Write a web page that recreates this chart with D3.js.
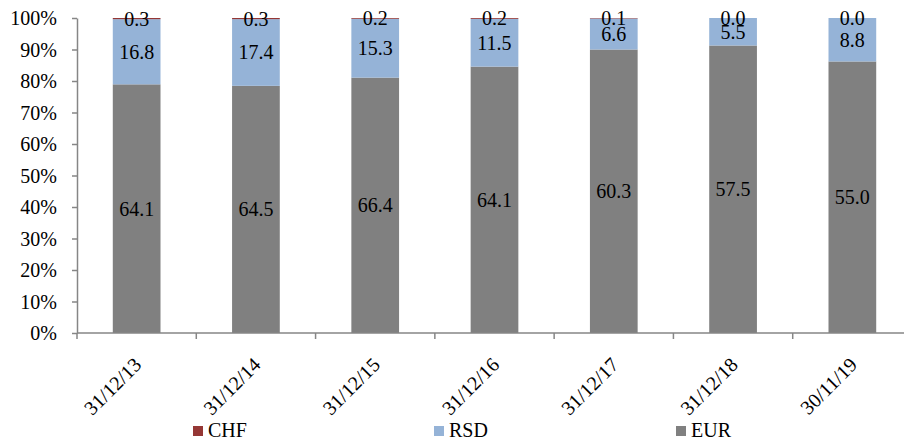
<!DOCTYPE html>
<html>
<head>
<meta charset="utf-8">
<script src="https://cdn.jsdelivr.net/npm/d3@7"></script>
<style>
  body { margin: 0; background: #fff; }
</style>
</head>
<body>
<div id="chart"></div>
<script>
//Categories and series (EUR at bottom, RSD, CHF on top)
var dates = ["31/12/13", "31/12/14", "31/12/15", "31/12/16", "31/12/17", "31/12/18", "30/11/19"];
var eur = [64.1, 64.5, 66.4, 64.1, 60.3, 57.5, 55.0];
var rsd = [16.8, 17.4, 15.3, 11.5, 6.6, 5.5, 8.8];
var chf = [0.3, 0.3, 0.2, 0.2, 0.1, 0.0, 0.0];
var yTicks = [0, 0.1, 0.2, 0.3, 0.4, 0.5, 0.6, 0.7, 0.8, 0.9, 1];

var series = [
  {name: "EUR", values: eur, color: "#808080"},
  {name: "RSD", values: rsd, color: "#95b3d7"},
  {name: "CHF", values: chf, color: "#953735"}
];

var width = 904, height = 444;
var margin = {top: 18, left: 77, bottom: 111};
var serif = "'Liberation Serif'";

var svg = d3.select("#chart").append("svg")
  .attr("width", width).attr("height", height)
  .attr("font-family", serif);

//band scale runs a little past the right edge like the original
var x = d3.scaleBand()
  .domain(dates)
  .range([margin.left, 912])
  .paddingInner(0.6)
  .paddingOuter(0.3);

var y = d3.scaleLinear()
  .domain([0, 1])
  .range([height - margin.bottom, margin.top]);

//build the stacked shares
var table = dates.map(function(d, i) {
  var row = {date: d};
  series.forEach(function(s) { row[s.name] = s.values[i]; });
  return row;
});
var stack = d3.stack().keys(series.map(function(s) { return s.name; }))
  .offset(d3.stackOffsetExpand);
var layers = stack(table);

//bars
layers.forEach(function(layer, k) {
  svg.append("g").selectAll("rect")
    .data(layer)
    .enter().append("rect")
      .attr("x", function(d) { return x(d.data.date); })
      .attr("width", x.bandwidth())
      .attr("y", function(d) { return y(d[1]); })
      .attr("height", function(d) { return y(d[0]) - y(d[1]); })
      .attr("fill", series[k].color);
});

//y axis
var yAxis = svg.append("g")
  .attr("transform", "translate(" + margin.left + ",0)")
  .call(d3.axisLeft(y).tickValues(yTicks).tickFormat(d3.format(".0%")).tickSize(5).tickSizeOuter(0))
  .attr("font-family", serif)
  .attr("font-size", 20);
yAxis.select(".domain").attr("stroke", "#868686").attr("stroke-width", 1.5);
yAxis.selectAll(".tick line").attr("stroke", "#868686").attr("stroke-width", 1.5);
yAxis.selectAll("text")
  .attr("fill", "#000")
  .attr("x", -20).attr("dy", "0.33em");

//x axis line with ticks at category boundaries
var base = y(0);
svg.append("line")
  .attr("x1", margin.left).attr("x2", width)
  .attr("y1", base).attr("y2", base)
  .attr("stroke", "#868686").attr("stroke-width", 1.5);
var step = x.step();
d3.range(dates.length + 1).forEach(function(i) {
  var bx = margin.left + i * step;
  svg.append("line")
    .attr("x1", bx).attr("x2", bx)
    .attr("y1", base).attr("y2", base + 6)
    .attr("stroke", "#868686").attr("stroke-width", 1.5);
});

//rotated category labels
svg.append("g").selectAll("text")
  .data(dates)
  .enter().append("text")
    .attr("transform", function(d) {
      return "translate(" + (x(d) + x.bandwidth() / 2 + 6) + "," + (base + 33) + ") rotate(-45)";
    })
    .attr("text-anchor", "end")
    .attr("font-size", 20)
    .text(function(d) { return d; });

//data labels centred in each segment
layers.forEach(function(layer, k) {
  svg.append("g").selectAll("text")
    .data(layer)
    .enter().append("text")
      .attr("x", function(d) { return x(d.data.date) + x.bandwidth() / 2; })
      .attr("y", function(d) { return (y(d[0]) + y(d[1])) / 2; })
      .attr("dy", "0.35em")
      .attr("text-anchor", "middle")
      .attr("font-size", 20)
      .attr("fill", "#000")
      .text(function(d, i) { return series[k].values[i].toFixed(1); });
});

//legend
var legendX = [193, 434, 676];
var legendItems = [series[2], series[1], series[0]];
var legend = svg.append("g").selectAll("g")
  .data(legendItems)
  .enter().append("g")
    .attr("transform", function(d, i) { return "translate(" + legendX[i] + ",426)"; });
legend.append("rect")
  .attr("width", 10).attr("height", 10)
  .attr("fill", function(d) { return d.color; });
legend.append("text")
  .attr("x", 15).attr("y", 11)
  .attr("font-size", 20)
  .text(function(d) { return d.name; });
</script>
</body>
</html>
